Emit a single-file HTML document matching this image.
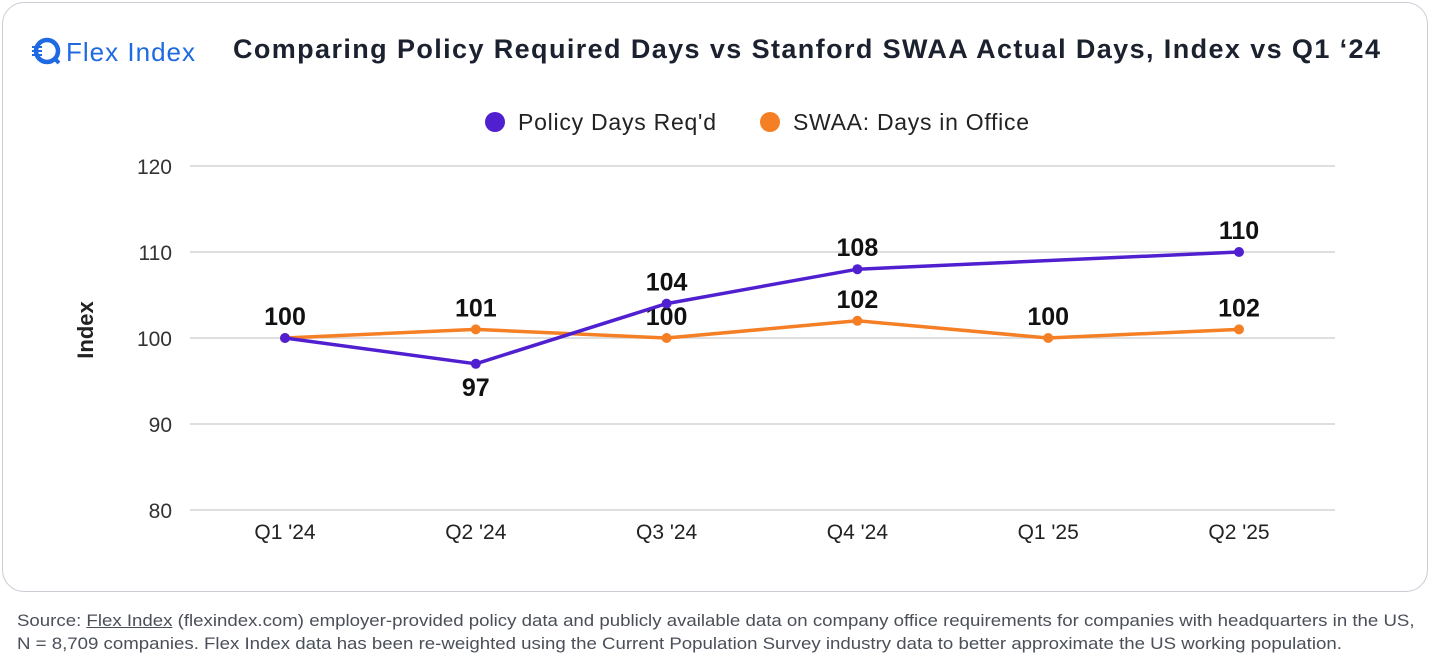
<!DOCTYPE html>
<html><head><meta charset="utf-8"><style>
body{margin:0;width:1456px;height:665px;background:#fff;font-family:"Liberation Sans",sans-serif;position:relative;overflow:hidden}
.card{position:absolute;left:2px;top:2px;width:1424px;height:588px;border:1.5px solid #c9ccd3;border-radius:22px}
.src{position:absolute;left:17px;top:610px;font-size:16.3px;color:#4a4f58;line-height:23px;transform-origin:0 0;transform:scaleX(1.145);white-space:nowrap}
</style></head><body>
<div class="card"></div>
<svg width="1456" height="600" style="position:absolute;left:0;top:0" id="chart">
<g>
<circle cx="47" cy="51" r="11" fill="none" stroke="#1f6ae0" stroke-width="4.5"/>
<rect x="32" y="46" width="10" height="2" fill="#1f6ae0"/><rect x="32" y="50" width="10" height="2" fill="#1f6ae0"/><rect x="32" y="54" width="10" height="2" fill="#1f6ae0"/>
<line x1="54" y1="58" x2="59" y2="63" stroke="#1f6ae0" stroke-width="4"/>
<text x="66" y="61" font-size="26" textLength="129" fill="#1f6ae0">Flex Index</text>
</g>
<text x="233" y="58" font-size="27" textLength="1147" font-weight="bold" fill="#1c2130">Comparing Policy Required Days vs Stanford SWAA Actual Days, Index vs Q1 ‘24</text>
<g>
<circle cx="495" cy="122" r="10" fill="#5020d0"/><text x="518" y="130" font-size="23" textLength="198" fill="#222">Policy Days Req'd</text>
<circle cx="770" cy="122" r="10" fill="#f57f25"/><text x="793" y="130" font-size="23" textLength="236" fill="#222">SWAA: Days in Office</text>
</g>
<text transform="translate(93,330) rotate(-90)" text-anchor="middle" font-size="22" font-weight="bold" fill="#222">Index</text>
<g id="grid"></g><g id="marks"></g>
</svg>
<div class="src">Source: <u>Flex Index</u> (flexindex.com) employer-provided policy data and publicly available data on company office requirements for companies with headquarters in the US,<br>N = 8,709 companies. Flex Index data has been re-weighted using the Current Population Survey industry data to better approximate the US working population.</div>
<script>
const categories=["Q1 '24","Q2 '24","Q3 '24","Q4 '24","Q1 '25","Q2 '25"];
const policyValues=[100,97,104,108,null,110];
const policyLabels=["","97","104","108","","110"];
const swaaValues=[100,101,100,102,100,101];
const swaaLabels=["100","101","100","102","100","102"];
const yTicks=[80,90,100,110,120];
const NS="http://www.w3.org/2000/svg";
const x=i=>285+i*190.8;
const y=v=>510-(v-80)*8.6;
function mk(t,a,p,txt){const e=document.createElementNS(NS,t);for(const k in a)e.setAttribute(k,a[k]);if(txt!=null)e.textContent=txt;p.appendChild(e);return e;}
const grid=document.getElementById('grid'),marks=document.getElementById('marks');
yTicks.forEach(t=>{
const l=mk('line',{x1:190,x2:1335,y1:y(t),y2:y(t),stroke:'#d4d4d4','stroke-width':1.5},grid);


const tx=mk('text',{x:172,y:y(t)+8,'text-anchor':'end','font-size':21,fill:'#333'},grid,t);


});
categories.forEach((c,i)=>{
const tx=mk('text',{x:x(i),y:539,'text-anchor':'middle','font-size':21,fill:'#222'},grid,c);


});
function series(vals,labels,color,name,above){
const pts=[];vals.forEach((v,i)=>{if(v!=null)pts.push([x(i),y(v),i]);});
const pl=mk('polyline',{points:pts.map(p=>p[0]+','+p[1]).join(' '),fill:'none',stroke:color,'stroke-width':3.5,'stroke-linejoin':'round'},marks);


pts.forEach(p=>{
const c=mk('circle',{cx:p[0],cy:p[1],r:5,fill:color},marks);


const lb=labels[p[2]];
if(lb){const dy=above[p[2]]?-13:+32;
const t=mk('text',{x:p[0],y:p[1]+dy,'text-anchor':'middle','font-size':25,'font-weight':'bold',fill:'#111'},marks,lb);

}
});
}
series(swaaValues,swaaLabels,'#f57f25','swaa',[1,1,1,1,1,1]);
series(policyValues,policyLabels,'#5020d0','policy',[1,0,1,1,1,1]);
</script>
</body></html>
